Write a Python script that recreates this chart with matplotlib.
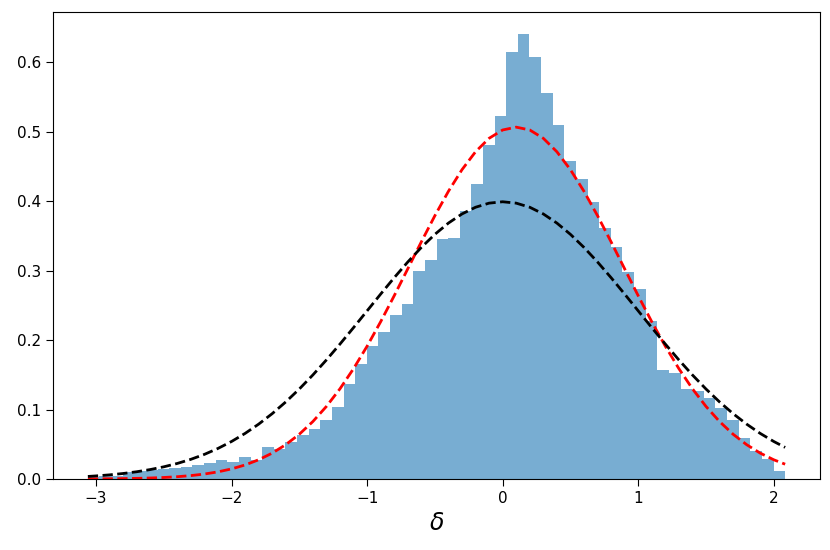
import numpy as np
import matplotlib
matplotlib.use("Agg")
import matplotlib.pyplot as plt

# Histogram: 60 equal bins between the data min and max
bin_lo, bin_hi, n_bins = -3.06, 2.084, 60
heights = [0.003, 0.004, 0.005, 0.010, 0.012, 0.013, 0.014, 0.016, 0.017, 0.020,
           0.0226, 0.027, 0.0244, 0.0316, 0.028, 0.046, 0.0427, 0.0536, 0.063, 0.0714,
           0.0848, 0.103, 0.136, 0.166, 0.191, 0.211, 0.2356, 0.2514, 0.300, 0.315,
           0.345, 0.347, 0.385, 0.424, 0.480, 0.523, 0.614, 0.640, 0.607, 0.556,
           0.509, 0.458, 0.431, 0.398, 0.361, 0.334, 0.298, 0.274, 0.2275, 0.1566,
           0.1528, 0.129, 0.126, 0.116, 0.1025, 0.0848, 0.0584, 0.041, 0.0285, 0.012]

# Curve sample points (x) and values read for the two dashed curves
curve_x = [-3.06, -3.0, -2.9, -2.8, -2.7, -2.6, -2.5, -2.4, -2.3, -2.2, -2.1,
           -2.0, -1.9, -1.8, -1.7, -1.6, -1.5, -1.4, -1.3, -1.2, -1.1,
           -1.0, -0.9, -0.8, -0.7, -0.6, -0.5, -0.4, -0.3, -0.2, -0.1,
           0.0, 0.1, 0.2, 0.3, 0.4, 0.5, 0.6, 0.7, 0.8, 0.9,
           1.0, 1.1, 1.2, 1.3, 1.4, 1.5, 1.6, 1.7, 1.8, 1.9, 2.0, 2.084]
black_curve = [0.00366, 0.00443, 0.00595, 0.00792, 0.01042, 0.01358, 0.01753, 0.02239, 0.02833, 0.03547, 0.04398,
               0.05399, 0.06562, 0.07895, 0.09405, 0.11092, 0.12952, 0.14973, 0.17137, 0.19419, 0.21785,
               0.24197, 0.26609, 0.28969, 0.31225, 0.33322, 0.35207, 0.36827, 0.38139, 0.39104, 0.39695,
               0.39894, 0.39695, 0.39104, 0.38139, 0.36827, 0.35207, 0.33322, 0.31225, 0.28969, 0.26609,
               0.24197, 0.21785, 0.19419, 0.17137, 0.14973, 0.12952, 0.11092, 0.09405, 0.07895, 0.06562,
               0.05399, 0.04548]
red_curve = [0.00016, 0.00022, 0.00036, 0.00058, 0.00092, 0.00143, 0.00219, 0.0033, 0.0049, 0.00715, 0.01028,
             0.01453, 0.02022, 0.02767, 0.03726, 0.0494, 0.06444, 0.08271, 0.10447, 0.12984, 0.1588,
             0.19111, 0.22631, 0.26372, 0.30242, 0.34123, 0.37889, 0.41398, 0.4451, 0.4709, 0.49025,
             0.50224, 0.5063, 0.50224, 0.49025, 0.4709, 0.4451, 0.41398, 0.37889, 0.34123, 0.30242,
             0.26372, 0.22631, 0.19111, 0.1588, 0.12984, 0.10447, 0.08271, 0.06444, 0.0494, 0.03726,
             0.02767, 0.02129]

edges = np.linspace(bin_lo, bin_hi, n_bins + 1)

fig = plt.figure(figsize=(8.3, 5.5), dpi=100)
ax = fig.add_axes([53 / 830, 1 - 479 / 550, (820 - 53) / 830, (479 - 12) / 550])

ax.bar(edges[:-1], heights, width=np.diff(edges), align="edge",
       color="#1f77b4", alpha=0.6, linewidth=0)
ax.plot(curve_x, red_curve, "r--", lw=2)
ax.plot(curve_x, black_curve, "k--", lw=2)

ax.set_xticks([-3, -2, -1, 0, 1, 2])
ax.set_yticks([0.0, 0.1, 0.2, 0.3, 0.4, 0.5, 0.6])
ax.tick_params(labelsize=11, length=5)
ax.set_xlabel(r"$\delta$", fontsize=17)

fig.savefig("out.png", dpi=100)
